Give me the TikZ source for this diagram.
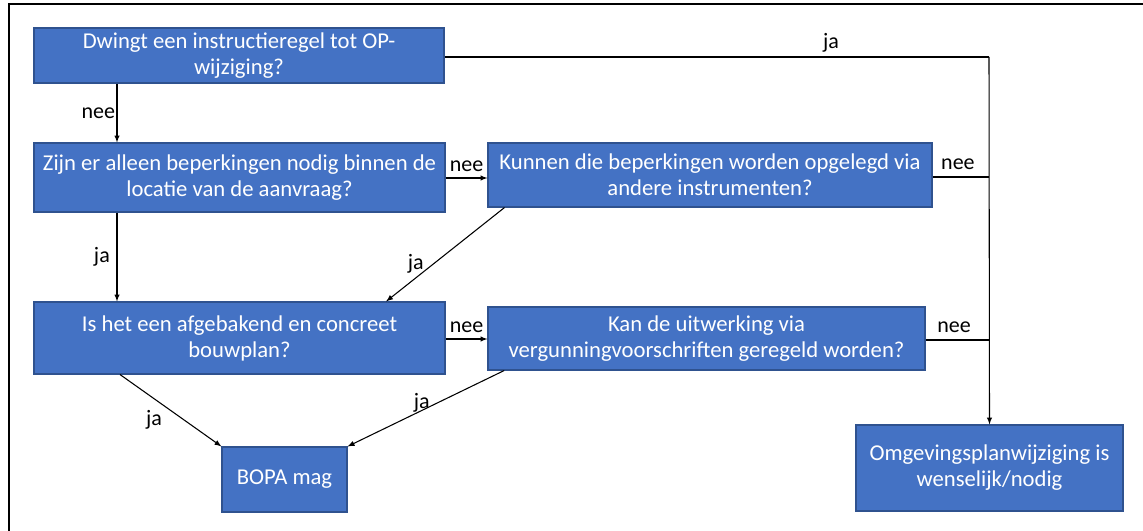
\documentclass[tikz,border=0pt]{standalone}
\usepackage{fontspec}
\setmainfont{Carlito}
\usetikzlibrary{positioning,calc,arrows}
\definecolor{vraagblauw}{RGB}{68,114,196}
\definecolor{vraagrand}{RGB}{47,82,143}
\tikzset{
  vraag/.style={draw=vraagrand, fill=vraagblauw, text=white, align=center,
    inner sep=0pt, line width=0.8pt, font=\fontsize{17}{19.5}\selectfont},
  lbl/.style={font=\fontsize{16.5}{18}\selectfont, inner sep=1pt}
}

\begin{document}
\begin{tikzpicture}[x=0.75pt, y=-0.75pt, line width=0.8pt]
\useasboundingbox (0,0) rectangle (1143,531);
\draw[line width=1.5pt] (9,531) -- (9,4) -- (1143,4);

\node[vraag, minimum width=307.5pt, minimum height=41.25pt] (instr) at (239,55.5) {Dwingt een instructieregel tot OP-\\wijziging?};
\node[vraag, minimum width=308.25pt, minimum height=51.75pt] (locatie) at (239.5,177.5) {Zijn er alleen beperkingen nodig binnen de\\locatie van de aanvraag?};
\node[vraag, minimum width=333pt, minimum height=48pt] (instrum) at (710,175) {Kunnen die beperkingen worden opgelegd via\\andere instrumenten?};
\node[vraag, minimum width=308.25pt, minimum height=54pt] (bouwplan) at (239.5,338) {Is het een afgebakend en concreet\\bouwplan?};
\node[vraag, minimum width=327.75pt, minimum height=47.25pt] (vergunning) at (706.5,338.5) {Kan de uitwerking via\\vergunningvoorschriften geregeld worden?};
\node[vraag, minimum width=93.75pt, minimum height=48.75pt] (bopa) at (284.5,479.5) {BOPA mag};
\node[vraag, minimum width=200.25pt, minimum height=64.5pt] (opw) at (989.5,468) {Omgevingsplanwijziging is\\wenselijk/nodig};

\coordinate (j1) at (989,57);
\coordinate (j2) at (989,177);
\coordinate (j3) at (989,340);

\draw (instr.east |- j1) -- node[lbl, pos=0.71, above=2pt]{ja} (j1);
\draw[-latex] (j1) -- (opw.north);
\draw (instrum.east |- j2) -- node[lbl, pos=0.45, above=4pt]{nee} (j2);
\draw (vergunning.east |- j3) -- node[lbl, pos=0.45, above=4pt]{nee} (j3);

\draw
	(instr.south -| 117,0) edge[-latex] node[lbl, left]{nee} (locatie.north -| 117,0)
	(locatie.south -| 117,0) edge[-latex] node[lbl, left=4pt]{ja} (bouwplan.north -| 117,0)
	(locatie.east |- 0,178) edge[-latex] node[lbl, above=3pt]{nee} (instrum.west |- 0,178)
	(bouwplan.east |- 0,339) edge[-latex] node[lbl, above=3pt]{nee} (vergunning.west |- 0,339)
	(instrum.189) edge[-latex] node[lbl, pos=0.6, left=6pt]{ja} (bouwplan.14)
	(bouwplan.197) edge[-latex] node[lbl, pos=0.45, below left=2pt]{ja} (bopa.north west)
	(vergunning.189) edge[-latex] node[lbl, pos=0.5, above=-4pt, xshift=-3pt]{ja} (bopa.north east)
;
\end{tikzpicture}
\end{document}
